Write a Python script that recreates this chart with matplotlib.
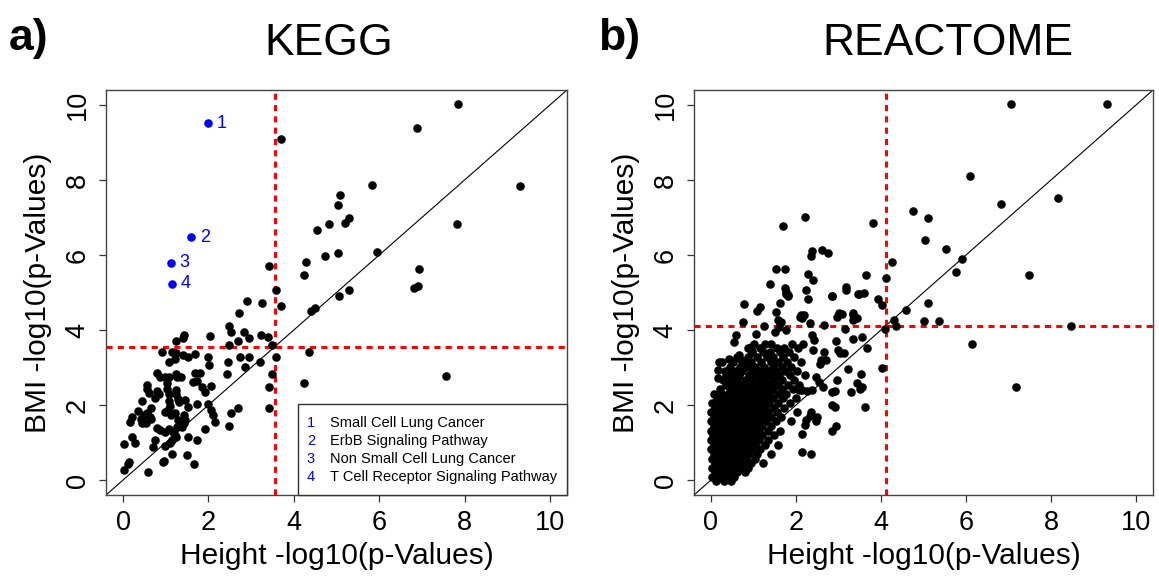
import numpy as np
import matplotlib
matplotlib.use('Agg')
import matplotlib.pyplot as plt
from matplotlib.patches import Rectangle

plt.rcParams['font.family'] = ['Liberation Sans', 'DejaVu Sans']

# ---- KEGG panel ----
kegg_cut = 3.56
kegg_height = [
    3.71, 3.42, 3.58, 4.28, 4.25, 4.55, 4.82, 4.73, 5.04, 5.08, 5.04, 7.84, 6.88,
    5.84, 9.30, 5.29, 5.19, 7.82, 5.94, 6.93, 6.92, 6.82, 5.29, 5.07, 7.56,
    2.90, 3.25, 3.71, 2.71, 2.48, 2.54, 2.83, 2.96, 3.22, 3.39, 2.03, 1.43, 1.40,
    1.23, 2.70, 2.48, 3.48, 3.58, 2.46, 2.73, 2.95, 3.21, 2.85, 2.43, 3.50, 1.99,
    2.01, 0.79, 0.87, 0.99, 1.07, 1.24, 1.26, 1.36, 4.40, 4.49, 4.35, 4.25,
    0.91, 1.15, 1.24, 1.40, 1.52, 1.69, 1.07, 1.21, 1.68, 1.81, 1.63, 1.73, 1.85,
    1.93, 2.07, 0.57, 0.55, 0.60, 0.44, 1.03, 1.04, 1.07, 0.79, 0.83, 0.75, 1.24,
    1.25, 1.29, 1.32, 1.46, 1.51, 1.73, 1.07, 1.10, 1.05, 0.36, 0.48, 0.56, 0.66,
    0.64, 0.20, 0.16, 0.42, 0.44, 0.53, 0.66, 0.99, 1.13, 1.22, 1.29, 1.26, 1.42,
    1.44, 1.42, 1.38, 0.79, 0.87, 0.99, 1.07, 1.18, 1.22, 1.24, 1.99, 2.07, 2.10,
    2.15, 1.91, 1.73, 1.51, 2.54, 2.70, 2.49, 3.42, 3.42, 0.20, 0.27, 0.01, 0.74,
    0.69, 0.99, 1.11, 1.15, 1.15, 1.49, 0.93, 0.97, 1.65, 0.13, 0.11, 0.03, 0.58,
]
kegg_bmi = [
    9.10, 5.71, 5.08, 5.81, 5.46, 6.68, 6.84, 5.97, 7.33, 7.60, 6.06, 10.02, 9.38,
    7.87, 7.84, 6.98, 6.86, 6.82, 6.07, 5.62, 5.17, 5.11, 5.07, 4.90, 2.77,
    4.77, 4.71, 4.64, 4.46, 4.11, 3.96, 3.94, 3.80, 3.86, 3.82, 3.84, 3.87, 3.78,
    3.72, 3.72, 3.59, 3.59, 3.29, 3.16, 3.27, 3.29, 3.15, 3.02, 2.84, 2.84, 3.27,
    3.06, 2.86, 2.76, 2.76, 2.74, 2.84, 2.74, 2.74, 4.52, 4.59, 3.42, 2.58,
    3.42, 3.42, 3.38, 3.33, 3.27, 3.36, 3.16, 3.22, 2.86, 2.86, 2.62, 2.65, 2.47,
    2.36, 2.51, 2.53, 2.44, 2.31, 2.12, 2.60, 2.44, 2.29, 2.38, 2.29, 2.18, 2.40,
    2.29, 2.15, 2.09, 2.13, 1.94, 2.04, 2.12, 1.97, 1.87, 1.85, 1.73, 1.78, 1.91,
    1.69, 1.69, 1.56, 1.64, 1.51, 1.53, 1.64, 1.82, 1.73, 1.78, 1.60, 1.42, 1.73,
    1.60, 1.51, 1.42, 1.38, 1.33, 1.29, 1.35, 1.29, 1.20, 1.14, 2.03, 1.87, 1.73,
    1.56, 1.35, 1.07, 1.14, 1.78, 1.91, 1.44, 2.47, 1.91, 1.16, 0.98, 0.95, 1.08,
    0.89, 0.92, 0.98, 1.08, 0.69, 0.68, 0.49, 0.52, 0.42, 0.49, 0.43, 0.27, 0.21,
]
hit_height = [2.00, 1.60, 1.13, 1.15]
hit_bmi = [9.52, 6.48, 5.79, 5.23]
hit_labels = ['1', '2', '3', '4']
hit_names = ['Small Cell Lung Cancer', 'ErbB Signaling Pathway',
             'Non Small Cell Lung Cancer', 'T Cell Receptor Signaling Pathway']

# ---- REACTOME panel ----
reactome_cut = 4.11
reactome_sparse_height = [
    4.76, 5.10, 5.04, 3.80, 2.21, 1.69, 2.38, 2.35, 2.60, 2.76, 4.27, 1.53, 1.73,
    2.29, 2.40, 1.38, 3.65, 4.12, 1.73, 2.23, 3.17, 3.17, 3.47, 3.60, 1.76, 1.81,
    2.85, 7.07, 9.32, 6.09, 8.17, 6.83, 5.54, 5.90, 5.77, 7.48, 5.10, 5.02, 5.36,
    8.47, 6.13, 7.18, 2.85, 2.29, 3.00, 3.09, 3.33, 3.35, 3.48, 3.94, 4.03, 4.58,
    4.31, 4.36, 4.09, 2.97, 2.11, 2.13, 2.32, 2.66, 3.15, 3.34, 3.43, 3.56, 3.34,
    2.94, 2.38, 2.42, 2.16, 2.40, 2.66, 2.98, 3.04, 3.14, 3.66, 2.58, 2.70, 2.57,
    3.23, 4.03, 3.53, 2.97, 2.48, 2.53, 2.64, 3.44, 3.50, 3.56, 3.30, 2.84, 2.92,
    3.62, 2.85, 2.92, 2.36, 2.32, 2.49, 2.48, 2.95, 2.84, 2.24, 2.21, 2.13, 2.13,
    2.36, 2.07, 2.15, 2.27, 2.37, 0.78, 1.15, 1.09, 1.62, 1.80, 1.76, 1.52, 2.09,
    2.19, 0.76, 1.25, 1.58, 1.64, 0.58, 0.54, 1.05, 0.66, 0.70, 0.42, 0.19, 0.27,
    0.17, 0.17, 0.35, 0.46, 1.51, 1.60, 1.76, 0.93, 0.97,
]
reactome_sparse_bmi = [
    7.17, 7.00, 6.39, 6.86, 7.02, 6.77, 6.11, 5.97, 6.13, 6.06, 5.82, 5.64, 5.64,
    5.50, 5.33, 5.24, 5.47, 5.38, 5.13, 5.07, 5.16, 5.08, 4.96, 5.00, 4.95, 4.92,
    4.92, 10.02, 10.02, 8.10, 7.53, 7.37, 6.15, 5.90, 5.56, 5.48, 4.71, 4.24, 4.25,
    4.11, 3.62, 2.47, 4.91, 4.84, 4.46, 4.44, 4.46, 4.40, 4.96, 4.84, 4.67, 4.53,
    4.28, 4.11, 4.02, 4.36, 4.40, 4.31, 4.18, 4.13, 4.04, 4.27, 4.31, 3.82, 3.75,
    3.72, 3.87, 3.73, 3.63, 3.47, 3.42, 3.47, 3.38, 3.40, 3.51, 3.20, 3.20, 3.09,
    2.96, 3.00, 2.84, 2.68, 2.74, 2.62, 2.49, 2.58, 2.44, 2.49, 2.35, 2.36, 2.38,
    1.94, 2.00, 1.96, 1.82, 1.71, 1.69, 1.58, 1.44, 1.31, 1.60, 1.47, 1.23, 0.76,
    0.69, 2.40, 2.40, 2.38, 2.40, 4.69, 4.62, 4.52, 4.73, 4.93, 5.02, 4.49, 4.36,
    4.40, 4.22, 4.11, 4.27, 4.22, 3.87, 3.69, 3.89, 3.33, 3.20, 3.24, 3.16, 3.16,
    2.93, 2.71, 2.80, 2.84, 3.96, 4.09, 4.00, 3.56, 3.42,
]
# dense cloud near the origin, read row by row (BMI value: Height values)
reactome_dense = [
    (3.62, [1.00, 1.28, 1.42, 1.90]),
    (3.52, [0.88, 1.15, 1.55, 1.72, 2.05]),
    (3.41, [0.97, 1.22, 1.38, 1.63, 1.83]),
    (3.28, [0.62, 0.86, 1.08, 1.31, 1.47, 1.70, 1.96]),
    (3.14, [0.52, 0.77, 0.93, 1.18, 1.40, 1.58, 1.79, 2.12]),
    (3.02, [0.45, 0.68, 0.85, 1.03, 1.25, 1.46, 1.66, 1.88]),
    (2.90, [0.33, 0.58, 0.74, 0.98, 1.12, 1.33, 1.52, 1.74, 2.03]),
    (2.79, [0.50, 0.66, 0.89, 1.06, 1.22, 1.41, 1.60, 1.85, 2.21]),
    (2.66, [0.28, 0.43, 0.61, 0.80, 0.95, 1.14, 1.30, 1.49, 1.68, 1.95]),
    (2.54, [0.36, 0.52, 0.70, 0.86, 1.02, 1.21, 1.38, 1.58, 1.80, 2.08]),
    (2.42, [0.22, 0.44, 0.60, 0.77, 0.93, 1.10, 1.27, 1.47, 1.66, 1.92]),
    (2.30, [0.08, 0.27, 0.41, 0.56, 0.72, 0.88, 1.04, 1.20, 1.36, 1.57, 1.77]),
    (2.18, [0.14, 0.33, 0.49, 0.64, 0.81, 0.97, 1.13, 1.30, 1.46, 1.69, 2.00]),
    (2.06, [0.03, 0.21, 0.38, 0.55, 0.70, 0.87, 1.03, 1.19, 1.37, 1.58, 1.86]),
    (1.93, [0.10, 0.27, 0.44, 0.60, 0.76, 0.92, 1.09, 1.26, 1.48, 1.72]),
    (1.81, [0.00, 0.18, 0.34, 0.50, 0.66, 0.83, 0.99, 1.16, 1.33, 1.55, 2.02]),
    (1.69, [0.06, 0.24, 0.40, 0.57, 0.73, 0.90, 1.06, 1.22, 1.42, 1.65]),
    (1.57, [0.00, 0.15, 0.31, 0.47, 0.63, 0.80, 0.96, 1.13, 1.30, 1.52, 1.88]),
    (1.44, [0.07, 0.23, 0.39, 0.55, 0.71, 0.87, 1.03, 1.20, 1.41]),
    (1.32, [0.00, 0.16, 0.32, 0.48, 0.64, 0.80, 0.97, 1.14, 1.35, 1.62]),
    (1.19, [0.05, 0.22, 0.38, 0.54, 0.70, 0.86, 1.02, 1.21, 1.48]),
    (1.07, [0.00, 0.14, 0.30, 0.46, 0.62, 0.78, 0.94, 1.12, 1.33]),
    (0.94, [0.06, 0.22, 0.38, 0.54, 0.70, 0.86, 1.04, 1.27, 1.58]),
    (0.82, [0.00, 0.15, 0.31, 0.47, 0.63, 0.79, 0.97, 1.16]),
    (0.70, [0.08, 0.24, 0.40, 0.56, 0.72, 0.90, 1.08, 1.42]),
    (0.57, [0.02, 0.17, 0.33, 0.49, 0.65, 0.83, 1.03]),
    (0.45, [0.10, 0.26, 0.42, 0.58, 0.76, 0.95, 1.22]),
    (0.33, [0.03, 0.18, 0.34, 0.50, 0.68, 0.87]),
    (0.21, [0.09, 0.25, 0.42, 0.60, 0.80]),
    (0.09, [0.03, 0.18, 0.36, 0.55]),
    (-0.02, [0.12, 0.30, 0.47]),
]

ticks = [0, 2, 4, 6, 8, 10]
DOT = 38

W, H = 1159, 581
fig = plt.figure(figsize=(W / 100, H / 100), dpi=100)


def panel(left_px, right_px):
    ax = fig.add_axes([left_px / W, 1 - 495 / H, (right_px - left_px) / W, 405 / H])
    ax.set_xlim(-0.4, 10.4)
    ax.set_ylim(-0.4, 10.4)
    ax.set_xticks(ticks)
    ax.set_yticks(ticks)
    ax.tick_params(direction='out', length=5, width=0.9, labelsize=19.5,
                   color='#333333', pad=6)
    for lab in ax.get_yticklabels():
        lab.set_rotation(90)
        lab.set_va('center')
    for s in ax.spines.values():
        s.set_color('#444444')
        s.set_linewidth(1.0)
    ax.set_xlabel('Height -log10(p-Values)', fontsize=21.5, labelpad=4)
    ax.set_ylabel('BMI -log10(p-Values)', fontsize=21.5, labelpad=9)
    ax.plot([-0.4, 10.4], [-0.4, 10.4], color='black', lw=0.8, zorder=2)
    return ax


def cut_lines(ax, cut):
    ax.axvline(cut, color='red', lw=2.2, ls=(0, (2, 1.7)), zorder=2.5)
    ax.axhline(cut, color='red', lw=2.2, ls=(0, (2, 1.7)), zorder=2.5)


# a) KEGG
ax1 = panel(106, 567)
cut_lines(ax1, kegg_cut)
ax1.scatter(kegg_height, kegg_bmi, s=DOT, c='black', linewidths=0, zorder=3)
ax1.scatter(hit_height, hit_bmi, s=DOT, c='#0000ff', linewidths=0, zorder=3)
for hx, hy, lab in zip(hit_height, hit_bmi, hit_labels):
    ax1.annotate(lab, (hx, hy), xytext=(6, 0), textcoords='offset points',
                 ha='left', va='center', color='#0000ff', fontsize=13)

leg_x0 = (298 - 106) / 461
leg_top = (495 - 404) / 405
ax1.add_patch(Rectangle((leg_x0, 0), 1 - leg_x0, leg_top, transform=ax1.transAxes,
                        fc='white', ec='#333333', lw=1, zorder=4, clip_on=False))
for i, (lab, name) in enumerate(zip(hit_labels, hit_names)):
    yy = (495 - (423 + 18 * i)) / 405
    ax1.text((311 - 106) / 461, yy, lab, color='#0000ff', fontsize=10.5,
             ha='center', va='center', transform=ax1.transAxes, zorder=5)
    ax1.text((330 - 106) / 461, yy, name, color='black', fontsize=10.5,
             ha='left', va='center', transform=ax1.transAxes, zorder=5)

# b) REACTOME
ax2 = panel(694, 1153)
cut_lines(ax2, reactome_cut)
dense_h = [x for y, xs in reactome_dense for x in xs]
dense_b = [y for y, xs in reactome_dense for x in xs]
ax2.scatter(reactome_sparse_height + dense_h, reactome_sparse_bmi + dense_b,
            s=DOT, c='black', linewidths=0, zorder=3)

fig.text(9 / W, 1 - 50 / H, 'a)', fontsize=32, fontweight='bold', ha='left', va='baseline')
fig.text(329 / W, 1 - 55 / H, 'KEGG', fontsize=32, ha='center', va='baseline')
fig.text(598 / W, 1 - 50 / H, 'b)', fontsize=32, fontweight='bold', ha='left', va='baseline')
fig.text(948 / W, 1 - 55 / H, 'REACTOME', fontsize=32, ha='center', va='baseline')

fig.savefig('out.png', dpi=100)
